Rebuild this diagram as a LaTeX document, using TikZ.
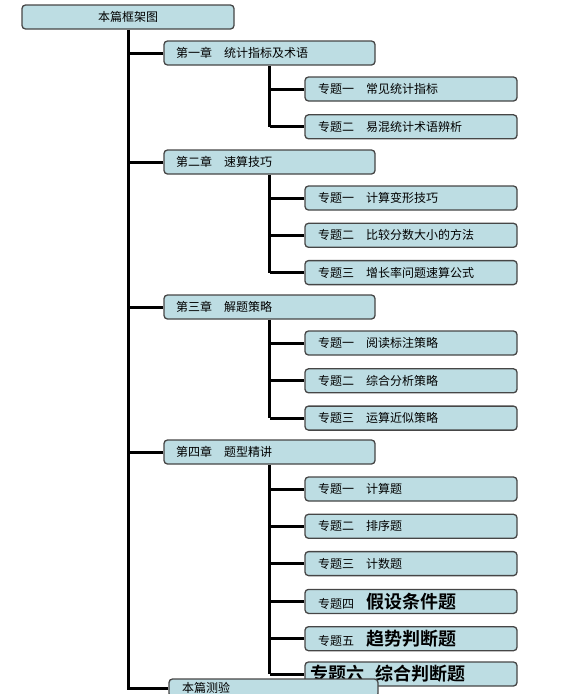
\documentclass[tikz,border=0pt]{standalone}
\usepackage{fontspec}
\newfontfamily\cjk{Noto Sans CJK SC}[BoldFont={Noto Sans CJK SC Bold}]
\usetikzlibrary{backgrounds,positioning}
\definecolor{boxblue}{RGB}{189,221,227}
\definecolor{boxline}{RGB}{70,70,70}
\tikzset{
    frame diagram/.style = {x=1pt, y=-1pt},
    box/.style           = {draw=boxline, fill=boxblue, line width=1.3pt,
                            rounded corners=3.5pt, minimum height=24pt,
                            inner sep=0pt,
                            font=\cjk\fontsize{12}{14}\selectfont},
    rootbox/.style       = {box, minimum width=212pt},
    chapter/.style       = {box, minimum width=211pt, text width=187pt,
                            align=left},
    topic/.style         = {box, minimum width=212pt, text width=186pt,
                            align=left},
    testbox/.style       = {box, minimum width=209pt, minimum height=18pt,
                            text width=183pt, align=left},
    trunk/.style         = {line width=3pt}
}
\newcommand{\bigtitle}[1]{{\bfseries\fontsize{18}{20}\selectfont #1}}

\begin{document}
\begin{tikzpicture}[frame diagram]
\clip (0,0) rectangle (570,694);

% Root and chapters
\node[rootbox] (root) at (128,17) {本篇框架图};
\node[chapter] (c1) at (269.5,53)  {第一章　统计指标及术语};
\node[chapter] (c2) at (269.5,162) {第二章　速算技巧};
\node[chapter] (c3) at (269.5,307) {第三章　解题策略};
\node[chapter] (c4) at (269.5,452) {第四章　题型精讲};

% Topics of each chapter
\node[topic] (c1t1) at (411,89)  {专题一　常见统计指标};
\node[topic, below=12.5pt of c1t1] (c1t2) {专题二　易混统计术语辨析};

\node[topic] (c2t1) at (411,198) {专题一　计算变形技巧};
\node[topic, below=12pt of c2t1] (c2t2) {专题二　比较分数大小的方法};
\node[topic, below=12pt of c2t2] (c2t3) {专题三　增长率问题速算公式};

\node[topic] (c3t1) at (411,343) {专题一　阅读标注策略};
\node[topic, below=12.5pt of c3t1] (c3t2) {专题二　综合分析策略};
\node[topic, below=12pt of c3t2] (c3t3) {专题三　运算近似策略};

\node[topic] (c4t1) at (411,489) {专题一　计算题};
\node[topic, below=12pt of c4t1] (c4t2) {专题二　排序题};
\node[topic, below=12pt of c4t2] (c4t3) {专题三　计数题};
\node[topic, below=12.5pt of c4t3] (c4t4) {专题四　\bigtitle{假设条件题}};
\node[topic, below=12pt of c4t4] (c4t5) {专题五　\bigtitle{趋势判断题}};
\node[topic, text width=202pt, below=10pt of c4t5]
    (c4t6) {\bigtitle{专题六\hspace{11pt}综合判断题}};

% Closing test box
\node[testbox] (test) at (273.5,688) {本篇测验};

% Connectors behind the boxes
\begin{scope}[on background layer]
    \draw[trunk] (root.south) -- (root.south |- test.west) -- (test.west);
    \foreach \c in {c1, c2, c3, c4}
        \draw[trunk] (\c.west) -- (\c.west -| root.south);
    \foreach \c/\t in {c1/c1t2, c2/c2t3, c3/c3t3, c4/c4t6}
        \draw[trunk] (\c.south) -- (\c.south |- \t.west);
    \foreach \c/\t in {c1/c1t1, c1/c1t2, c2/c2t1, c2/c2t2, c2/c2t3,
                       c3/c3t1, c3/c3t2, c3/c3t3, c4/c4t1, c4/c4t2,
                       c4/c4t3, c4/c4t4, c4/c4t5, c4/c4t6}
        \draw[trunk] (\t.west) -- (\t.west -| \c.south);
\end{scope}

\end{tikzpicture}
\end{document}
